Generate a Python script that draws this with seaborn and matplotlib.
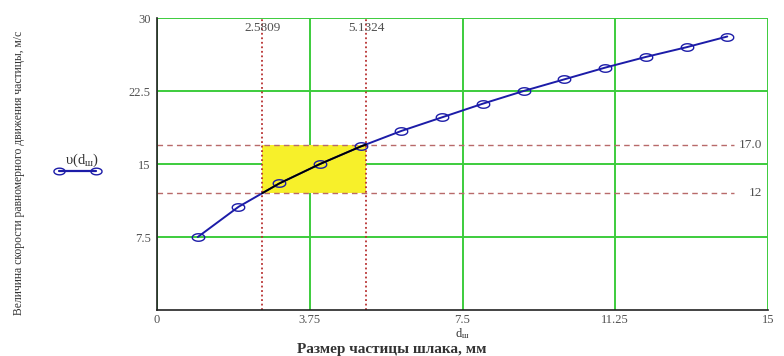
import matplotlib
matplotlib.use("Agg")
import matplotlib.pyplot as plt
import numpy as np
import pandas as pd
import seaborn as sns
from matplotlib.lines import Line2D

# значения
d_sh = [1, 2, 3, 4, 5, 6, 7, 8, 9, 10, 11, 12, 13, 14]
v_sh = [7.5, 10.6, 13.0, 15.0, 16.8, 18.4, 19.8, 21.2, 22.5, 23.7, 24.9, 26.0, 27.0, 28.1]
d_lo, d_hi = 2.5809, 5.1324
v_lo, v_hi = 12.0, 17.0
x_ticks = [0, 3.75, 7.5, 11.25, 15]
y_ticks = [7.5, 15, 22.5, 30]

df = pd.DataFrame({"d": d_sh, "v": v_sh})

sns.set_theme(style="white")
plt.rcParams["font.family"] = ["Liberation Serif", "DejaVu Serif"]
plt.rcParams["mathtext.fontset"] = "custom"
plt.rcParams["mathtext.rm"] = "Liberation Serif"
plt.rcParams["mathtext.it"] = "Liberation Serif"

green = "#3ccc3c"
blue = "#1c1ca8"
grey = "#505050"

# приплюснутый кружок, как у Mathcad
t = np.linspace(0, 2 * np.pi, 40)
ell = list(zip(np.cos(t), 0.6 * np.sin(t)))

fig = plt.figure(figsize=(7.84, 3.56), dpi=100)
ax = fig.add_axes([0.2003, 0.1292, 0.7793, 0.8202])

ax.set_xlim(0, 15)
ax.set_ylim(0, 30)

# жёлтая область
ax.fill_between([d_lo, d_hi], v_lo, v_hi, color="#f7f02a", zorder=1, linewidth=0)

ax.set_xticks(x_ticks)
ax.set_xticklabels(["0", "3.75", "7.5", "11.25", "15"])
ax.set_yticks(y_ticks)
ax.set_yticklabels(["7.5", "15", "22.5", "30"])
ax.grid(True, color=green, linewidth=1.4, zorder=0)
ax.set_axisbelow(True)

for s in ["top", "right"]:
    ax.spines[s].set_visible(False)
for s in ["left", "bottom"]:
    ax.spines[s].set_color("#222222")
    ax.spines[s].set_linewidth(1.2)
    ax.spines[s].set_zorder(5)

ax.tick_params(axis="both", colors=green, length=3, width=1.2, labelsize=9,
               labelcolor=grey, direction="out")
ax.tick_params(axis="x", pad=0)
ax.tick_params(axis="y", pad=1.5)

# маркеры 12 и 17
for yv in [v_lo, v_hi]:
    ax.axhline(yv, xmax=0.945, color="#b86a6a", linestyle=(0, (4, 3)), linewidth=1, zorder=2)
for xv in [d_lo, d_hi]:
    ax.axvline(xv, color="#b83030", linestyle=(0, (1, 1.5)), linewidth=1.3, zorder=2)

ax.text(d_lo, 29.6, "2.5809", ha="center", va="top", fontsize=9.5, color=grey)
ax.text(d_hi, 29.6, "5.1324", ha="center", va="top", fontsize=9.5, color=grey)
ax.text(14.85, v_hi, "17.0", ha="right", va="center", fontsize=9.5, color=grey)
ax.text(14.85, v_lo, "12", ha="right", va="center", fontsize=9.5, color=grey)

sns.lineplot(data=df, x="d", y="v", ax=ax, color=blue, linewidth=1.4,
             marker=ell, markersize=9, markerfacecolor="none",
             markeredgecolor=blue, markeredgewidth=1.0, zorder=4)

# участок кривой внутри жёлтой области
in_box = [(d_lo, v_lo)] + [(a, b) for a, b in zip(d_sh, v_sh) if d_lo < a < d_hi] + [(d_hi, v_hi)]
ax.plot([p[0] for p in in_box], [p[1] for p in in_box], color="black", linewidth=1.3, zorder=4)

ax.set_xlabel("d$_{\\mathrm{ш}}$", fontsize=9, color="#333333", labelpad=0)
ax.xaxis.set_label_coords(0.5, -0.056)
ax.set_ylabel("")

fig.text(0.5, 0.018, "Размер частицы шлака, мм", ha="center", va="center",
         fontsize=11, fontweight="bold", color="#333333")
fig.text(0.024, 0.515, "Величина скорости равномерного движения частицы, м/с",
         rotation=90, ha="center", va="center", fontsize=8.4, color="#333333")

# обозначение кривой слева
fig.text(0.105, 0.55, "υ(d$_{\\mathrm{ш}}$)", ha="center", va="center", fontsize=10.5, color="#333333")
h = Line2D([0], [0], color=blue, linewidth=1.6, marker=ell, markersize=8,
           markerfacecolor="none", markeredgecolor=blue)
ax.legend(handles=[h], labels=[""], loc="center", bbox_to_anchor=(-0.13, 0.47),
          frameon=False, handlelength=3.0, numpoints=2, handletextpad=0,
          borderpad=0, borderaxespad=0)

fig.savefig("out.png", dpi=100)
